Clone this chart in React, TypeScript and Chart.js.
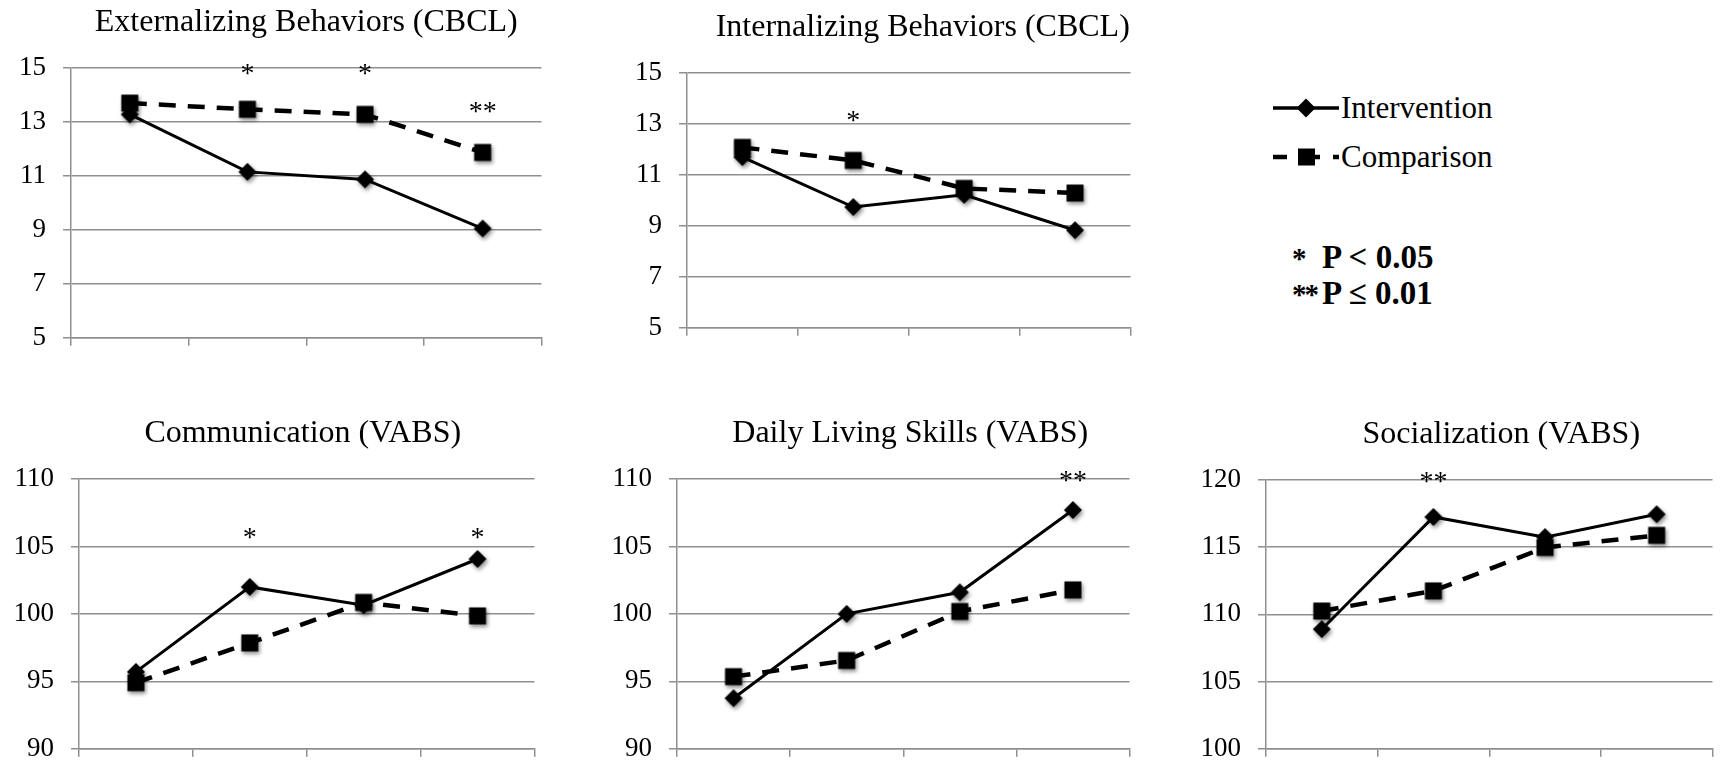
import React, { useEffect, useRef } from "react";
import { Chart, registerables } from "chart.js";

Chart.register(...registerables);

// ---------- data ----------
const categories = ["T1", "T2", "T3", "T4"];

const extIntervention = [13.28, 11.15, 10.87, 9.05];
const extComparison = [13.7, 13.47, 13.28, 11.87];
const extSig = ["", "*", "*", "**"];
const extSigAt = [0, 15.0, 15.0, 13.58];

const intIntervention = [11.7, 9.74, 10.22, 8.83];
const intComparison = [12.08, 11.57, 10.47, 10.29];
const intSig = ["", "*", "", ""];
const intSigAt = [0, 13.34, 0, 0];

const comIntervention = [95.7, 102.0, 100.65, 104.07];
const comComparison = [94.9, 97.85, 100.85, 99.85];
const comSig = ["", "*", "", "*"];
const comSigAt = [0, 106.1, 0, 106.1];

const dlsIntervention = [93.75, 100.0, 101.6, 107.7];
const dlsComparison = [95.35, 96.55, 100.18, 101.78];
const dlsSig = ["", "", "", "**"];
const dlsSigAt = [0, 0, 0, 110.3];

const socIntervention = [108.9, 117.25, 115.75, 117.45];
const socComparison = [110.25, 111.75, 114.98, 115.88];
const socSig = ["", "**", "", ""];
const socSigAt = [0, 120.3, 0, 0];

const cbclTicks = { min: 5, max: 15, step: 2 };
const vabsTicks = { min: 90, max: 110, step: 5 };
const socTicks = { min: 100, max: 120, step: 5 };

const seriesNames = ["Intervention", "Comparison"];
const pLegend = [
  { mark: "*", text: "P < 0.05" },
  { mark: "**", text: "P ≤ 0.01" },
];

// ---------- styling ----------
const FONT = "'Liberation Serif', 'Times New Roman', serif";
const GRID = "#8f8f8f";
const YAXIS_W = 90;
const XAXIS_H = 30;
const PAD_TOP = 70;
const PAD_RIGHT = 10;

type Panel = {
  title: string;
  titleShift: number;
  a: number[];
  b: number[];
  sig: string[];
  sigAt: number[];
  ticks: { min: number; max: number; step: number };
  area: { L: number; T: number; R: number; B: number };
};

const panels: Panel[] = [
  { title: "Externalizing Behaviors (CBCL)", titleShift: 0, a: extIntervention, b: extComparison, sig: extSig, sigAt: extSigAt, ticks: cbclTicks, area: { L: 71, T: 68, R: 548, B: 341 } },
  { title: "Internalizing Behaviors (CBCL)", titleShift: 14, a: intIntervention, b: intComparison, sig: intSig, sigAt: intSigAt, ticks: cbclTicks, area: { L: 687, T: 73, R: 1137, B: 331 } },
  { title: "Communication (VABS)", titleShift: -4, a: comIntervention, b: comComparison, sig: comSig, sigAt: comSigAt, ticks: vabsTicks, area: { L: 79, T: 479, R: 541, B: 752 } },
  { title: "Daily Living Skills (VABS)", titleShift: 7, a: dlsIntervention, b: dlsComparison, sig: dlsSig, sigAt: dlsSigAt, ticks: vabsTicks, area: { L: 677, T: 479, R: 1136, B: 752 } },
  { title: "Socialization (VABS)", titleShift: 12, a: socIntervention, b: socComparison, sig: socSig, sigAt: socSigAt, ticks: socTicks, area: { L: 1266, T: 480, R: 1719, B: 752 } },
];

function makeMarker(shape: "diamond" | "square"): HTMLCanvasElement {
  const c = document.createElement("canvas");
  c.width = 36;
  c.height = 36;
  const ctx = c.getContext("2d")!;
  ctx.shadowColor = "rgba(0,0,0,0.45)";
  ctx.shadowBlur = 4;
  ctx.shadowOffsetX = 1.5;
  ctx.shadowOffsetY = 2.5;
  ctx.fillStyle = "#000";
  ctx.beginPath();
  if (shape === "diamond") {
    ctx.moveTo(18, 9);
    ctx.lineTo(27, 18);
    ctx.lineTo(18, 27);
    ctx.lineTo(9, 18);
    ctx.closePath();
  } else {
    ctx.rect(9.5, 9.5, 17, 17);
  }
  ctx.fill();
  return c;
}

const panelTitlePlugin = {
  id: "panelTitle",
  afterDraw(chart: any, _args: any, opts: any) {
    const { ctx, chartArea } = chart;
    ctx.save();
    ctx.font = `32px ${FONT}`;
    ctx.fillStyle = "#000";
    ctx.textAlign = "center";
    ctx.textBaseline = "middle";
    ctx.fillText(opts.text, (chartArea.left + chartArea.right) / 2 + (opts.shift || 0), chartArea.top - 45);
    ctx.restore();
  },
};

const sigPlugin = {
  id: "sigMarks",
  afterDraw(chart: any, _args: any, opts: any) {
    const { ctx } = chart;
    const xs = chart.scales.x;
    const ys = chart.scales.y;
    ctx.save();
    ctx.font = `28px ${FONT}`;
    ctx.fillStyle = "#000";
    ctx.textAlign = "center";
    ctx.textBaseline = "alphabetic";
    (opts.labels as string[]).forEach((lab, i) => {
      if (!lab) return;
      ctx.fillText(lab, xs.getPixelForValue(i), ys.getPixelForValue(opts.at[i]) + 14);
    });
    ctx.restore();
  },
};

function PanelChart({ p }: { p: Panel }) {
  const ref = useRef<HTMLCanvasElement>(null);
  const W = p.area.R - p.area.L + YAXIS_W + PAD_RIGHT;
  const H = p.area.B - p.area.T + PAD_TOP + XAXIS_H;
  useEffect(() => {
    if (!ref.current) return;
    const diamond = makeMarker("diamond");
    const square = makeMarker("square");
    const chart = new Chart(ref.current, {
      type: "line",
      data: {
        labels: categories,
        datasets: [
          {
            label: seriesNames[0],
            data: p.a,
            borderColor: "#000",
            backgroundColor: "#000",
            borderWidth: 3,
            pointStyle: diamond as any,
            pointRadius: 9,
            tension: 0,
          },
          {
            label: seriesNames[1],
            data: p.b,
            borderColor: "#000",
            backgroundColor: "#000",
            borderWidth: 4.5,
            borderDash: [17, 12],
            pointStyle: square as any,
            pointRadius: 12,
            tension: 0,
          },
        ],
      },
      options: {
        responsive: false,
        animation: false,
        events: [],
        layout: { padding: { top: PAD_TOP, right: PAD_RIGHT, left: 0, bottom: 0 } },
        scales: {
          x: {
            type: "category",
            offset: true,
            grid: { offset: true, drawOnChartArea: false, drawTicks: true, tickLength: 8, color: GRID, lineWidth: 1.5 },
            border: { display: true, color: GRID, width: 1.5 },
            ticks: { display: false },
            afterFit: (s: any) => { s.height = XAXIS_H; },
          },
          y: {
            min: p.ticks.min,
            max: p.ticks.max,
            ticks: { stepSize: p.ticks.step, color: "#000", padding: 17, font: { family: FONT, size: 27 } },
            grid: { color: GRID, lineWidth: 1.5, tickLength: 8, drawTicks: true },
            border: { display: true, color: GRID, width: 1.5 },
            afterFit: (s: any) => { s.width = YAXIS_W; },
          },
        },
        plugins: {
          legend: { display: false },
          title: { display: false },
          tooltip: { enabled: false },
          panelTitle: { text: p.title, shift: p.titleShift },
          sigMarks: { labels: p.sig, at: p.sigAt },
        } as any,
      },
      plugins: [panelTitlePlugin, sigPlugin],
    });
    return () => chart.destroy();
  }, [p]);
  return (
    <canvas
      ref={ref}
      width={W}
      height={H}
      style={{ position: "absolute", left: p.area.L - YAXIS_W, top: p.area.T - PAD_TOP, width: W, height: H }}
    />
  );
}

function Legend() {
  const txt: React.CSSProperties = { fontFamily: FONT, fontSize: 31, color: "#000", lineHeight: "40px", whiteSpace: "nowrap" };
  return (
    <div style={{ position: "absolute", left: 1273, top: 84 }}>
      <div style={{ display: "flex", alignItems: "center", height: 48 }}>
        <svg width={68} height={30} style={{ display: "block" }}>
          <line x1={0} y1={15} x2={66} y2={15} stroke="#000" strokeWidth={3.5} />
          <polygon points="33,5.5 42.5,15 33,24.5 23.5,15" fill="#000" />
        </svg>
        <span style={txt}>{seriesNames[0]}</span>
      </div>
      <div style={{ display: "flex", alignItems: "center", height: 50 }}>
        <svg width={68} height={30} style={{ display: "block" }}>
          <line x1={0} y1={15} x2={14} y2={15} stroke="#000" strokeWidth={4.5} />
          <rect x={25} y={6.5} width={17} height={17} fill="#000" />
          <line x1={42} y1={15} x2={47} y2={15} stroke="#000" strokeWidth={4.5} />
          <line x1={60} y1={15} x2={66} y2={15} stroke="#000" strokeWidth={4.5} />
        </svg>
        <span style={txt}>{seriesNames[1]}</span>
      </div>
      <div style={{ marginTop: 58, marginLeft: 19 }}>
        {pLegend.map((r) => (
          <div key={r.mark} style={{ display: "flex", alignItems: "baseline", fontFamily: FONT, fontWeight: "bold", lineHeight: "35px", whiteSpace: "nowrap" }}>
            <span style={{ flex: "0 0 30px", fontSize: 29, letterSpacing: -2 }}>{r.mark}</span>
            <span style={{ fontSize: 33 }}>{r.text}</span>
          </div>
        ))}
      </div>
    </div>
  );
}

export default function App() {
  return (
    <div style={{ position: "absolute", left: 0, top: 0, width: 1731, height: 766, background: "#fff", overflow: "hidden" }}>
      {panels.map((p) => (
        <PanelChart key={p.title} p={p} />
      ))}
      <Legend />
    </div>
  );
}
